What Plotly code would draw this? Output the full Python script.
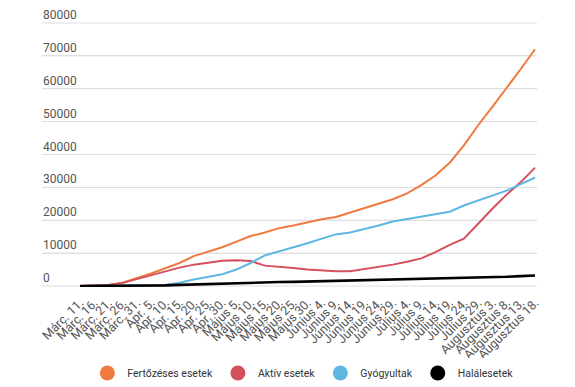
import plotly.graph_objects as go

dates = ["Márc. 11.", "Márc. 16.", "Márc. 21.", "Márc. 26.", "Márc. 31.",
         "Ápr. 5.", "Ápr. 10.", "Ápr. 15.", "Ápr. 20.", "Ápr. 25.", "Ápr. 30.",
         "Május 5.", "Május 10.", "Május 15.", "Május 20.", "Május 25.", "Május 30.",
         "Június 4.", "Június 9.", "Június 14.", "Június 19.", "Június 24.", "Június 29.",
         "Július 4.", "Július 9.", "Július 14.", "Július 19.", "Július 24.", "Július 29.",
         "Augusztus 3.", "Augusztus 8.", "Augusztus 13.", "Augusztus 18."]

fertozeses = [0, 100, 300, 1000, 2300, 3800, 5400, 7000, 9100, 10500, 11800,
              13500, 15200, 16300, 17600, 18400, 19400, 20300, 21000, 22400, 23600,
              25000, 26400, 28200, 30700, 33600, 37500, 42800, 48900, 54500, 60200,
              66000, 72000]
aktiv = [0, 100, 300, 950, 2100, 3300, 4400, 5600, 6500, 7200, 7700,
         7800, 7600, 6200, 5900, 5500, 5000, 4700, 4500, 4500, 5100,
         5700, 6500, 7400, 8400, 10300, 12500, 14400, 19000, 23500, 27800,
         31600, 36000]
gyogyultak = [0, 0, 0, 30, 80, 150, 300, 1000, 2000, 2700, 3600,
              5000, 7000, 9300, 10500, 11700, 13000, 14400, 15700, 16300, 17300,
              18400, 19600, 20400, 21200, 21900, 22600, 24500, 26000, 27400, 29000,
              31000, 33000]
halal = [0, 5, 10, 30, 60, 100, 200, 350, 500, 650, 800,
         900, 1000, 1100, 1200, 1250, 1350, 1450, 1500, 1550, 1650,
         1750, 1850, 1950, 2050, 2150, 2250, 2350, 2500, 2650, 2800,
         3000, 3200]

y_ticks = [0, 10000, 20000, 30000, 40000, 50000, 60000, 70000, 80000]

series = [
    ("Fertőzéses esetek", fertozeses, "#ee7a3f", 2),
    ("Aktív esetek", aktiv, "#d4505c", 2),
    ("Gyógyultak", gyogyultak, "#5db7e2", 2),
    ("Halálesetek", halal, "#000000", 2.6),
]

fig = go.Figure()
for name, vals, color, w in series:
    fig.add_trace(go.Scatter(x=dates, y=vals, mode="lines", name=name,
                             line=dict(color=color, width=w), showlegend=False))
for name, vals, color, w in series:
    fig.add_trace(go.Scatter(x=[None], y=[None], mode="markers", name=name,
                             marker=dict(color=color, size=15, symbol="circle")))

for v in y_ticks:
    fig.add_shape(type="line", xref="paper", x0=0, x1=1, yref="y", y0=v, y1=v,
                  line=dict(color="#dedede", width=1), layer="below")
    fig.add_annotation(x=0, xref="paper", xanchor="left", y=v, yref="y",
                       yanchor="bottom", yshift=0, borderpad=0, text=str(v),
                       showarrow=False,
                       font=dict(family="Roboto", size=12, color="#555555"))

# page body has a default 8px margin, so the figure is 8px smaller than the window
fig.update_layout(
    width=567, height=379,
    margin=dict(l=34, r=38, t=14, b=100, autoexpand=False),
    paper_bgcolor="white", plot_bgcolor="white",
    font=dict(family="Roboto", color="#555555", size=11),
    xaxis=dict(type="category", range=[-2.67, 32.14], tickangle=-45,
               tickmode="array", tickvals=dates, ticktext=dates, automargin=False,
               showgrid=False, showline=False, ticks="", ticklabelstandoff=5,
               tickfont=dict(size=12.5, color="#555555")),
    yaxis=dict(range=[-300, 80300], tickmode="array", tickvals=y_ticks,
               showgrid=True, gridcolor="#dedede", gridwidth=1,
               zeroline=False, showticklabels=False, automargin=False),
    legend=dict(orientation="h", x=0.52, xanchor="center", xref="container",
                y=0.037, yanchor="middle", yref="container",
                font=dict(size=10.5, color="#333333"), itemwidth=30),
)

fig.write_html("out.html")
